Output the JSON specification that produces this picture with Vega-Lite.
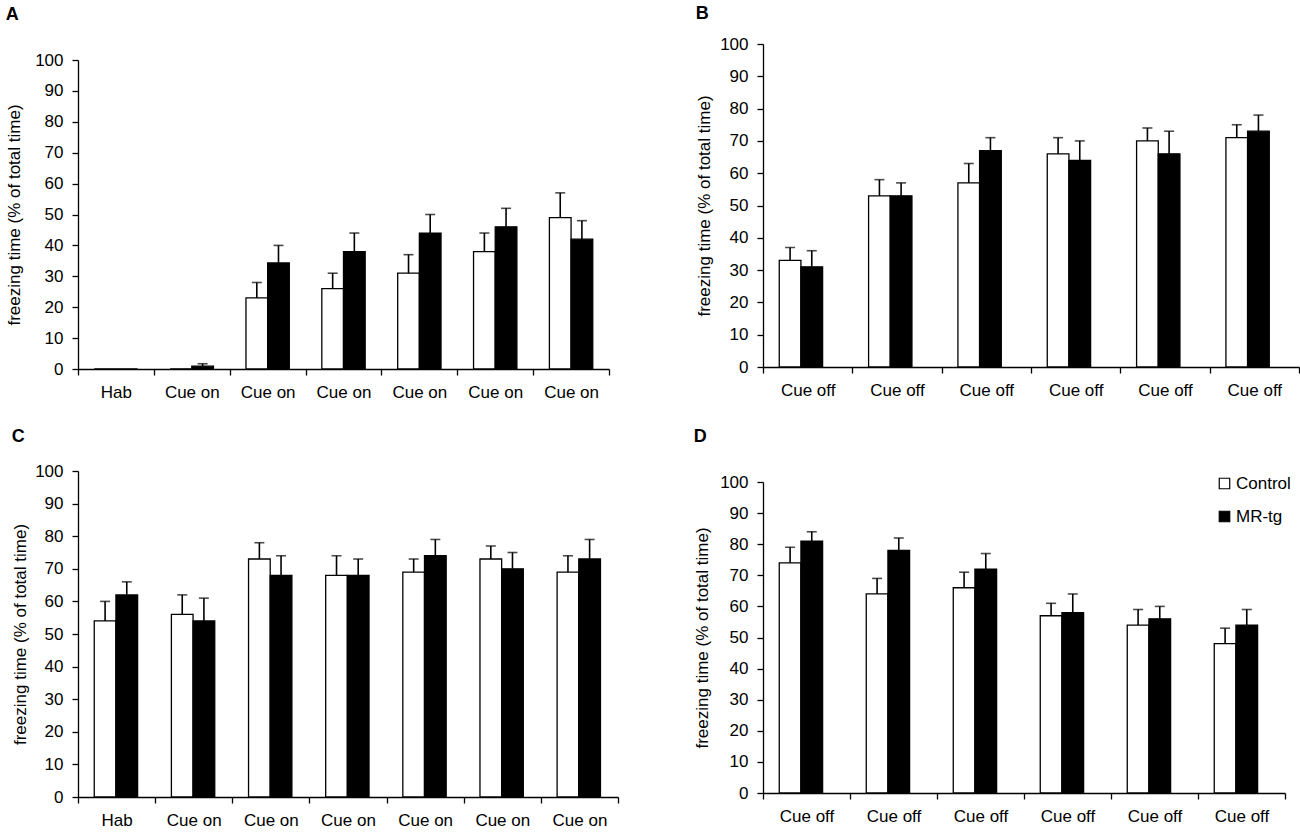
{
  "$schema": "https://vega.github.io/schema/vega-lite/v6.json",
  "background": "white",
  "padding": 5,
  "datasets": {
    "freezing": [
      {"panel": "A", "step": "1|Hab", "group": "Control", "mean": 0, "hi": null},
      {"panel": "A", "step": "1|Hab", "group": "MR-tg", "mean": 0, "hi": null},
      {"panel": "A", "step": "2|Cue on", "group": "Control", "mean": 0, "hi": null},
      {"panel": "A", "step": "2|Cue on", "group": "MR-tg", "mean": 0.9, "hi": 1.7},
      {"panel": "A", "step": "3|Cue on", "group": "Control", "mean": 23, "hi": 28},
      {"panel": "A", "step": "3|Cue on", "group": "MR-tg", "mean": 34.3, "hi": 40},
      {"panel": "A", "step": "4|Cue on", "group": "Control", "mean": 26, "hi": 31},
      {"panel": "A", "step": "4|Cue on", "group": "MR-tg", "mean": 38, "hi": 44},
      {"panel": "A", "step": "5|Cue on", "group": "Control", "mean": 31, "hi": 37},
      {"panel": "A", "step": "5|Cue on", "group": "MR-tg", "mean": 44, "hi": 50},
      {"panel": "A", "step": "6|Cue on", "group": "Control", "mean": 38, "hi": 44},
      {"panel": "A", "step": "6|Cue on", "group": "MR-tg", "mean": 46, "hi": 52},
      {"panel": "A", "step": "7|Cue on", "group": "Control", "mean": 49, "hi": 57},
      {"panel": "A", "step": "7|Cue on", "group": "MR-tg", "mean": 42, "hi": 48},
      {"panel": "B", "step": "1|Cue off", "group": "Control", "mean": 33, "hi": 37},
      {"panel": "B", "step": "1|Cue off", "group": "MR-tg", "mean": 31, "hi": 36},
      {"panel": "B", "step": "2|Cue off", "group": "Control", "mean": 53, "hi": 58},
      {"panel": "B", "step": "2|Cue off", "group": "MR-tg", "mean": 53, "hi": 57},
      {"panel": "B", "step": "3|Cue off", "group": "Control", "mean": 57, "hi": 63},
      {"panel": "B", "step": "3|Cue off", "group": "MR-tg", "mean": 67, "hi": 71},
      {"panel": "B", "step": "4|Cue off", "group": "Control", "mean": 66, "hi": 71},
      {"panel": "B", "step": "4|Cue off", "group": "MR-tg", "mean": 64, "hi": 70},
      {"panel": "B", "step": "5|Cue off", "group": "Control", "mean": 70, "hi": 74},
      {"panel": "B", "step": "5|Cue off", "group": "MR-tg", "mean": 66, "hi": 73},
      {"panel": "B", "step": "6|Cue off", "group": "Control", "mean": 71, "hi": 75},
      {"panel": "B", "step": "6|Cue off", "group": "MR-tg", "mean": 73, "hi": 78},
      {"panel": "C", "step": "1|Hab", "group": "Control", "mean": 54, "hi": 60},
      {"panel": "C", "step": "1|Hab", "group": "MR-tg", "mean": 62, "hi": 66},
      {"panel": "C", "step": "2|Cue on", "group": "Control", "mean": 56, "hi": 62},
      {"panel": "C", "step": "2|Cue on", "group": "MR-tg", "mean": 54, "hi": 61},
      {"panel": "C", "step": "3|Cue on", "group": "Control", "mean": 73, "hi": 78},
      {"panel": "C", "step": "3|Cue on", "group": "MR-tg", "mean": 68, "hi": 74},
      {"panel": "C", "step": "4|Cue on", "group": "Control", "mean": 68, "hi": 74},
      {"panel": "C", "step": "4|Cue on", "group": "MR-tg", "mean": 68, "hi": 73},
      {"panel": "C", "step": "5|Cue on", "group": "Control", "mean": 69, "hi": 73},
      {"panel": "C", "step": "5|Cue on", "group": "MR-tg", "mean": 74, "hi": 79},
      {"panel": "C", "step": "6|Cue on", "group": "Control", "mean": 73, "hi": 77},
      {"panel": "C", "step": "6|Cue on", "group": "MR-tg", "mean": 70, "hi": 75},
      {"panel": "C", "step": "7|Cue on", "group": "Control", "mean": 69, "hi": 74},
      {"panel": "C", "step": "7|Cue on", "group": "MR-tg", "mean": 73, "hi": 79},
      {"panel": "D", "step": "1|Cue off", "group": "Control", "mean": 74, "hi": 79},
      {"panel": "D", "step": "1|Cue off", "group": "MR-tg", "mean": 81, "hi": 84},
      {"panel": "D", "step": "2|Cue off", "group": "Control", "mean": 64, "hi": 69},
      {"panel": "D", "step": "2|Cue off", "group": "MR-tg", "mean": 78, "hi": 82},
      {"panel": "D", "step": "3|Cue off", "group": "Control", "mean": 66, "hi": 71},
      {"panel": "D", "step": "3|Cue off", "group": "MR-tg", "mean": 72, "hi": 77},
      {"panel": "D", "step": "4|Cue off", "group": "Control", "mean": 57, "hi": 61},
      {"panel": "D", "step": "4|Cue off", "group": "MR-tg", "mean": 58, "hi": 64},
      {"panel": "D", "step": "5|Cue off", "group": "Control", "mean": 54, "hi": 59},
      {"panel": "D", "step": "5|Cue off", "group": "MR-tg", "mean": 56, "hi": 60},
      {"panel": "D", "step": "6|Cue off", "group": "Control", "mean": 48, "hi": 53},
      {"panel": "D", "step": "6|Cue off", "group": "MR-tg", "mean": 54, "hi": 59}
    ]
  },
  "data": {"name": "freezing"},
  "spacing": 74,
  "hconcat": [
    {
      "align": "none",
      "spacing": 28,
      "vconcat": [
        {
          "title": {"text": "A", "offset": 20},
          "width": 531,
          "height": 325,
          "transform": [{"filter": "datum.panel == 'A'"}],
          "encoding": {
            "x": {
              "field": "step", "type": "nominal", "sort": null,
              "scale": {"paddingInner": 0, "paddingOuter": 0},
              "axis": {"title": null, "labelAngle": 0, "tickBand": "extent", "labelExpr": "split(datum.label, '|')[1]"}
            },
            "xOffset": {"field": "group", "type": "nominal", "scale": {"paddingInner": 0, "paddingOuter": 0.75}}
          },
          "layer": [
            {
              "mark": {"type": "bar", "stroke": "black", "strokeWidth": 1.3},
              "encoding": {
                "y": {
                  "field": "mean", "type": "quantitative",
                  "scale": {"domain": [0, 100], "rangeMax": 16},
                  "axis": {"title": "freezing time (% of total  time)", "values": [0, 10, 20, 30, 40, 50, 60, 70, 80, 90, 100], "titlePadding": 11}
                },
                "color": {
                  "field": "group", "type": "nominal",
                  "scale": {"domain": ["Control", "MR-tg"], "range": ["white", "black"]},
                  "legend": {"title": null, "orient": "none", "legendX": 1138, "legendY": 431}
                }
              }
            },
            {
              "transform": [{"filter": "datum.hi != null"}],
              "mark": {"type": "rule", "color": "black", "strokeWidth": 1.6},
              "encoding": {
                "y": {"field": "mean", "type": "quantitative", "axis": {"title": "freezing time (% of total  time)", "values": [0, 10, 20, 30, 40, 50, 60, 70, 80, 90, 100], "titlePadding": 11}},
                "y2": {"field": "hi"}
              }
            },
            {
              "transform": [{"filter": "datum.hi != null"}],
              "mark": {"type": "tick", "color": "black", "thickness": 1.6, "orient": "horizontal"},
              "encoding": {
                "y": {"field": "hi", "type": "quantitative", "axis": {"title": "freezing time (% of total  time)", "values": [0, 10, 20, 30, 40, 50, 60, 70, 80, 90, 100], "titlePadding": 11}},
                "size": {"value": 10}
              }
            }
          ]
        },
        {
          "title": {"text": "C", "offset": 16},
          "width": 540,
          "height": 326,
          "transform": [{"filter": "datum.panel == 'C'"}],
          "encoding": {
            "x": {
              "field": "step", "type": "nominal", "sort": null,
              "scale": {"paddingInner": 0, "paddingOuter": 0},
              "axis": {"title": null, "labelAngle": 0, "tickBand": "extent", "labelExpr": "split(datum.label, '|')[1]"}
            },
            "xOffset": {"field": "group", "type": "nominal", "scale": {"paddingInner": 0, "paddingOuter": 0.75}}
          },
          "layer": [
            {
              "mark": {"type": "bar", "stroke": "black", "strokeWidth": 1.3},
              "encoding": {
                "y": {
                  "field": "mean", "type": "quantitative",
                  "scale": {"domain": [0, 100]},
                  "axis": {"title": "freezing time (% of total time)", "values": [0, 10, 20, 30, 40, 50, 60, 70, 80, 90, 100], "titlePadding": 5}
                },
                "color": {
                  "field": "group", "type": "nominal",
                  "scale": {"domain": ["Control", "MR-tg"], "range": ["white", "black"]},
                  "legend": {"title": null, "orient": "none", "legendX": 1138, "legendY": 431}
                }
              }
            },
            {
              "mark": {"type": "rule", "color": "black", "strokeWidth": 1.6},
              "encoding": {
                "y": {"field": "mean", "type": "quantitative", "axis": {"title": "freezing time (% of total time)", "values": [0, 10, 20, 30, 40, 50, 60, 70, 80, 90, 100], "titlePadding": 5}},
                "y2": {"field": "hi"}
              }
            },
            {
              "mark": {"type": "tick", "color": "black", "thickness": 1.6, "orient": "horizontal"},
              "encoding": {
                "y": {"field": "hi", "type": "quantitative", "axis": {"title": "freezing time (% of total time)", "values": [0, 10, 20, 30, 40, 50, 60, 70, 80, 90, 100], "titlePadding": 5}},
                "size": {"value": 10}
              }
            }
          ]
        }
      ]
    },
    {
      "align": "none",
      "spacing": 30,
      "vconcat": [
        {
          "title": {"text": "B", "offset": 12},
          "width": 536,
          "height": 323,
          "transform": [{"filter": "datum.panel == 'B'"}],
          "encoding": {
            "x": {
              "field": "step", "type": "nominal", "sort": null,
              "scale": {"paddingInner": 0, "paddingOuter": 0},
              "axis": {"title": null, "labelAngle": 0, "tickBand": "extent", "labelExpr": "split(datum.label, '|')[1]"}
            },
            "xOffset": {"field": "group", "type": "nominal", "scale": {"paddingInner": 0, "paddingOuter": 0.78}}
          },
          "layer": [
            {
              "mark": {"type": "bar", "stroke": "black", "strokeWidth": 1.3},
              "encoding": {
                "y": {
                  "field": "mean", "type": "quantitative",
                  "scale": {"domain": [0, 100]},
                  "axis": {"title": "freezing time (% of total  time)", "values": [0, 10, 20, 30, 40, 50, 60, 70, 80, 90, 100], "titlePadding": 6}
                },
                "color": {
                  "field": "group", "type": "nominal",
                  "scale": {"domain": ["Control", "MR-tg"], "range": ["white", "black"]},
                  "legend": {"title": null, "orient": "none", "legendX": 1138, "legendY": 431}
                }
              }
            },
            {
              "mark": {"type": "rule", "color": "black", "strokeWidth": 1.6},
              "encoding": {
                "y": {"field": "mean", "type": "quantitative", "axis": {"title": "freezing time (% of total  time)", "values": [0, 10, 20, 30, 40, 50, 60, 70, 80, 90, 100], "titlePadding": 6}},
                "y2": {"field": "hi"}
              }
            },
            {
              "mark": {"type": "tick", "color": "black", "thickness": 1.6, "orient": "horizontal"},
              "encoding": {
                "y": {"field": "hi", "type": "quantitative", "axis": {"title": "freezing time (% of total  time)", "values": [0, 10, 20, 30, 40, 50, 60, 70, 80, 90, 100], "titlePadding": 6}},
                "size": {"value": 10}
              }
            }
          ]
        },
        {
          "title": {"text": "D", "offset": 27},
          "width": 522,
          "height": 311,
          "transform": [{"filter": "datum.panel == 'D'"}],
          "encoding": {
            "x": {
              "field": "step", "type": "nominal", "sort": null,
              "scale": {"paddingInner": 0, "paddingOuter": 0},
              "axis": {"title": null, "labelAngle": 0, "tickBand": "extent", "labelExpr": "split(datum.label, '|')[1]"}
            },
            "xOffset": {"field": "group", "type": "nominal", "scale": {"paddingInner": 0, "paddingOuter": 0.78}}
          },
          "layer": [
            {
              "mark": {"type": "bar", "stroke": "black", "strokeWidth": 1.3},
              "encoding": {
                "y": {
                  "field": "mean", "type": "quantitative",
                  "scale": {"domain": [0, 100]},
                  "axis": {"title": "freezing time  (% of total  time)", "values": [0, 10, 20, 30, 40, 50, 60, 70, 80, 90, 100], "titlePadding": 8}
                },
                "color": {
                  "field": "group", "type": "nominal",
                  "scale": {"domain": ["Control", "MR-tg"], "range": ["white", "black"]},
                  "legend": {"title": null, "orient": "none", "legendX": 1138, "legendY": 431}
                }
              }
            },
            {
              "mark": {"type": "rule", "color": "black", "strokeWidth": 1.6},
              "encoding": {
                "y": {"field": "mean", "type": "quantitative", "axis": {"title": "freezing time  (% of total  time)", "values": [0, 10, 20, 30, 40, 50, 60, 70, 80, 90, 100], "titlePadding": 8}},
                "y2": {"field": "hi"}
              }
            },
            {
              "mark": {"type": "tick", "color": "black", "thickness": 1.6, "orient": "horizontal"},
              "encoding": {
                "y": {"field": "hi", "type": "quantitative", "axis": {"title": "freezing time  (% of total  time)", "values": [0, 10, 20, 30, 40, 50, 60, 70, 80, 90, 100], "titlePadding": 8}},
                "size": {"value": 10}
              }
            }
          ]
        }
      ]
    }
  ],
  "config": {
    "font": "Liberation Sans",
    "view": {"stroke": null},
    "title": {"anchor": "start", "frame": "bounds", "fontSize": 18, "fontWeight": "bold", "color": "black"},
    "axis": {
      "grid": false,
      "domainColor": "black",
      "domainWidth": 1.3,
      "tickColor": "black",
      "tickWidth": 1.3,
      "tickSize": 6,
      "labelPadding": 9,
      "labelOverlap": false,
      "labelFlush": false,
      "labelColor": "black",
      "labelFontSize": 17,
      "labelFont": "Liberation Sans",
      "titleColor": "black",
      "titleFontSize": 17,
      "titleFont": "Liberation Sans",
      "titleFontWeight": "normal"
    },
    "legend": {
      "symbolType": "square",
      "symbolSize": 110,
      "symbolStrokeColor": "black",
      "symbolStrokeWidth": 1.2,
      "labelFontSize": 17,
      "labelFont": "Liberation Sans",
      "labelColor": "black",
      "labelOffset": 3,
      "rowPadding": 15
    }
  }
}
